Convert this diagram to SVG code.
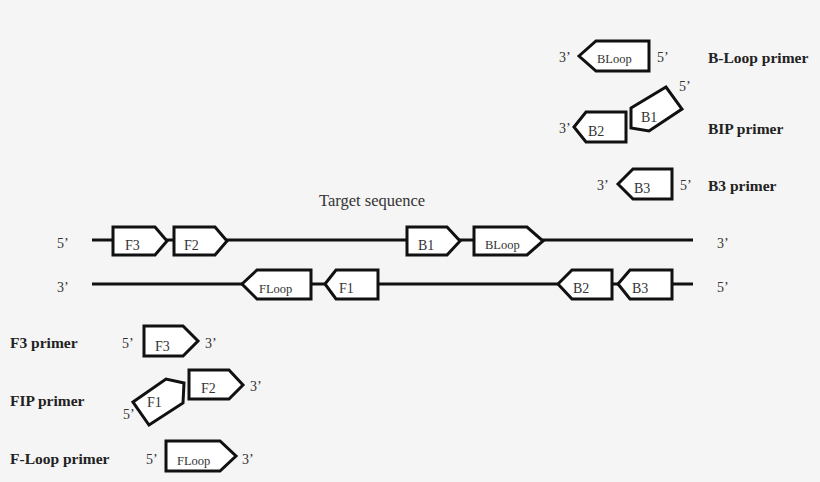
<svg xmlns="http://www.w3.org/2000/svg" width="820" height="482" viewBox="0 0 820 482">
<style>
.bx{fill:#ffffff;stroke:#111;stroke-width:3;stroke-linejoin:miter}
.strand{stroke:#111;stroke-width:3;fill:none}
.t{font-family:"Liberation Serif","Times New Roman",serif;fill:#333;font-size:14px}
.s{font-size:12.5px}
.e{font-family:"Liberation Serif","Times New Roman",serif;fill:#333;font-size:14px}
.lab{font-family:"Liberation Serif","Times New Roman",serif;fill:#222;font-size:15.5px;font-weight:bold}
</style>
<rect width="820" height="482" fill="#f5f5f5"/>
<g id="connectors">
<line class="strand" x1="92" y1="240" x2="693" y2="240"/>
<line class="strand" x1="92" y1="284" x2="693" y2="284"/>
</g>
<g id="target">
<text class="e" x="319" y="206" style="font-size:16.5px">Target sequence</text>
<text class="e" x="57" y="248">5’</text>
<text class="e" x="717" y="248">3’</text>
<text class="e" x="57" y="292">3’</text>
<text class="e" x="717" y="292">5’</text>
</g>
<g id="seq-F3"><path class="bx" d="M113,227H155L167,241L155,255H113Z"/><text class="t" x="125" y="250">F3</text></g>
<g id="seq-F2"><path class="bx" d="M174,227H215L227,241L215,255H174Z"/><text class="t" x="184" y="250">F2</text></g>
<g id="seq-B1"><path class="bx" d="M407,227H447L460,241L447,255H407Z"/><text class="t" x="418" y="250">B1</text></g>
<g id="seq-BLoop"><path class="bx" d="M474,227H527L543,241L527,255H474Z"/><text class="t s" x="485" y="249">BLoop</text></g>
<g id="seq-FLoop"><path class="bx" d="M242,284L257,270H311V299H257Z"/><text class="t s" x="259" y="293">FLoop</text></g>
<g id="seq-F1"><path class="bx" d="M325,284L336,270H378V299H336Z"/><text class="t" x="339" y="293">F1</text></g>
<g id="seq-B2"><path class="bx" d="M558,284L572,270H612V299H572Z"/><text class="t" x="573" y="293">B2</text></g>
<g id="seq-B3"><path class="bx" d="M618,284L630,270H672V299H630Z"/><text class="t" x="632" y="293">B3</text></g>

<g id="bloop-primer">
<path class="bx" d="M579,56L596,41H649V71H596Z"/>
<text class="t s" x="597" y="63">BLoop</text>
<text class="e" x="559" y="62">3’</text>
<text class="e" x="657" y="62">5’</text>
<text class="lab" x="708" y="63">B-Loop primer</text>
</g>
<g id="bip-primer">
<path class="bx" d="M574,127L586,112H626V142H586Z"/>
<text class="t" x="588" y="136">B2</text>
<path class="bx" d="M631,108L666,87L682,109L649,131L631,128Z"/>
<text class="t" x="641" y="122">B1</text>
<text class="e" x="559" y="133">3’</text>
<text class="e" x="679" y="91">5’</text>
<text class="lab" x="708" y="134">BIP primer</text>
</g>
<g id="b3-primer">
<path class="bx" d="M618,184L633,169H672V199H633Z"/>
<text class="t" x="634" y="193">B3</text>
<text class="e" x="597" y="190">3’</text>
<text class="e" x="680" y="190">5’</text>
<text class="lab" x="708" y="191">B3 primer</text>
</g>
<g id="f3-primer">
<path class="bx" d="M144,326H183L198,341L183,356H144Z"/>
<text class="t" x="155" y="351">F3</text>
<text class="e" x="122" y="348">5’</text>
<text class="e" x="205" y="348">3’</text>
<text class="lab" x="10" y="348">F3 primer</text>
</g>
<g id="fip-primer">
<path class="bx" d="M189,370H229L243,385L229,399H189Z"/>
<text class="t" x="201" y="393">F2</text>
<path class="bx" d="M133,402L166,379L184,383L183,403L149,425Z"/>
<text class="t" x="147" y="407">F1</text>
<text class="e" x="250" y="391">3’</text>
<text class="e" x="123" y="419">5’</text>
<text class="lab" x="10" y="406">FIP primer</text>
</g>
<g id="floop-primer">
<path class="bx" d="M166,441H220L236,456L220,471H166Z"/>
<text class="t s" x="177" y="465">FLoop</text>
<text class="e" x="146" y="464">5’</text>
<text class="e" x="242" y="464">3’</text>
<text class="lab" x="10" y="464">F-Loop primer</text>
</g>
</svg>
